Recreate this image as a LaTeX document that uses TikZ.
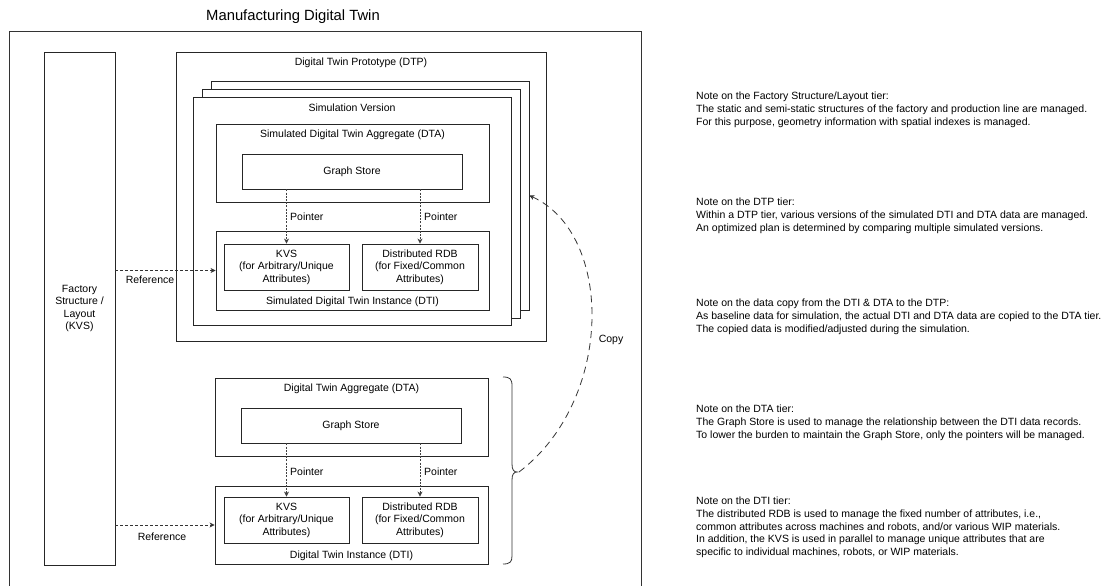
\documentclass[tikz,border=0pt]{standalone}
\usepackage{fontspec}
\setmainfont{Liberation Sans}
\usetikzlibrary{arrows.meta}
\begin{document}
\begin{tikzpicture}[x=1pt,y=-1pt,
  box/.style={draw=black!85, line width=0.8pt, fill=white, inner sep=0pt, align=center,
    font=\fontsize{10.5}{12.5}\selectfont},
  txt/.style={inner sep=0pt, align=center, font=\fontsize{10.5}{12.5}\selectfont},
  note/.style={inner sep=0pt, align=left, anchor=north west, font=\fontsize{10.5}{12.6}\selectfont},
  tip/.style={-{Stealth[length=5pt,width=5pt,inset=1.5pt]}},
  ptr/.style={tip, draw=black!75, line width=0.8pt, dash pattern=on 2pt off 1.2pt},
  refarrow/.style={tip, draw=black!80, line width=0.8pt, dash pattern=on 3pt off 2pt},
  copyarrow/.style={tip, draw=black!80, line width=0.8pt, dash pattern=on 7pt off 5pt},
  frame/.style={draw=black!80, line width=0.8pt}]
\useasboundingbox (0,0) rectangle (1109,586);

% title and outer frame
\node[inner sep=0pt, font=\fontsize{14.8}{17}\selectfont] (title) at (293,17) {Manufacturing Digital Twin};
\draw[frame] (9,590) -- (9,31) -- (641,31) -- (641,590);

% factory structure
\node[box, minimum width=71pt, minimum height=513pt] (factory) at (79.5,308.5)
  {Factory\\Structure /\\Layout\\(KVS)};

% DTP
\node[box, minimum width=370pt, minimum height=289pt] (dtp) at (361,196.5) {};
\node[txt] (dtptitle) at (361,63) {Digital Twin Prototype (DTP)};
\node[box, minimum width=318pt, minimum height=229pt] (back) at (370,195.5) {};
\node[box, minimum width=318pt, minimum height=229pt] (mid) at (361,203.5) {};
\node[box, minimum width=318pt, minimum height=228pt] (front) at (352,211) {};
\node[txt] (simver) at (352,108) {Simulation Version};

\node[box, minimum width=273pt, minimum height=78pt] (sdta) at (352.5,163) {};
\node[txt] (sdtatitle) at (352.5,135) {Simulated Digital Twin Aggregate (DTA)};
\node[box, minimum width=220pt, minimum height=35pt] (sgs) at (352,171.5) {Graph Store};

\node[box, minimum width=273pt, minimum height=79pt] (sdti) at (352.5,270.5) {};
\node[txt] (sdtititle) at (352.5,302) {Simulated Digital Twin Instance (DTI)};
\node[box, minimum width=125pt, minimum height=46pt] (skvs) at (286.5,267)
  {KVS\\(for Arbitrary/Unique\\Attributes)};
\node[box, minimum width=116pt, minimum height=46pt] (srdb) at (420,267)
  {Distributed RDB\\(for Fixed/Common\\Attributes)};

\draw[ptr] (skvs.north |- sgs.south) -- (skvs.north);
\draw[ptr] (srdb.north |- sgs.south) -- (srdb.north);
\node[txt, anchor=west] (sp1) at (290,217) {Pointer};
\node[txt, anchor=west] (sp2) at (424,217) {Pointer};

% actual DTA / DTI
\node[box, minimum width=273pt, minimum height=78pt] (dta) at (351.5,417) {};
\node[txt] (dtatitle) at (351.5,389) {Digital Twin Aggregate (DTA)};
\node[box, minimum width=220pt, minimum height=35pt] (gs) at (351,425.5) {Graph Store};

\node[box, minimum width=273pt, minimum height=78pt] (dti) at (351.5,525) {};
\node[txt] (dtititle) at (351.5,556) {Digital Twin Instance (DTI)};
\node[box, minimum width=125pt, minimum height=46pt] (kvs) at (286.5,520)
  {KVS\\(for Arbitrary/Unique\\Attributes)};
\node[box, minimum width=116pt, minimum height=46pt] (rdb) at (420,520)
  {Distributed RDB\\(for Fixed/Common\\Attributes)};

\draw[ptr] (kvs.north |- gs.south) -- (kvs.north);
\draw[ptr] (rdb.north |- gs.south) -- (rdb.north);
\node[txt, anchor=west] (p1) at (290,472) {Pointer};
\node[txt, anchor=west] (p2) at (424,472) {Pointer};

% references
\draw[refarrow] (factory.east |- sdti.west) -- (sdti.west);
\node[txt] (sref) at (150,280) {Reference};
\draw[refarrow] (factory.east |- dti.west) -- (dti.west);
\node[txt] (ref) at (162,537) {Reference};

% brace and copy
\draw[frame] (503,377) .. controls (510,377) and (512,379) .. (512,386) -- (512,464)
  .. controls (512,470) and (514,472) .. (517,472)
  .. controls (514,472) and (512,474) .. (512,480) -- (512,556)
  .. controls (512,562) and (510,564) .. (503,564);
\coordinate (bracetip) at (519,472);
\draw[copyarrow] (bracetip) .. controls (614,400) and (614,234) .. (back.east);
\node[txt] (copy) at (611,340) {Copy};

% notes
\node[note] (n1) at (696,92) {Note on the Factory Structure/Layout tier:\\
The static and semi-static structures of the factory and production line are managed.\\
For this purpose, geometry information with spatial indexes is managed.};
\node[note] (n2) at (696,198) {Note on the DTP tier:\\
Within a DTP tier, various versions of the simulated DTI and DTA data are managed.\\
An optimized plan is determined by comparing multiple simulated versions.};
\node[note] (n3) at (696,299) {Note on the data copy from the DTI \& DTA to the DTP:\\
As baseline data for simulation, the actual DTI and DTA data are copied to the DTA tier.\\
The copied data is modified/adjusted during the simulation.};
\node[note] (n4) at (696,405) {Note on the DTA tier:\\
The Graph Store is used to manage the relationship between the DTI data records.\\
To lower the burden to maintain the Graph Store, only the pointers will be managed.};
\node[note] (n5) at (696,497) {Note on the DTI tier:\\
The distributed RDB is used to manage the fixed number of attributes, i.e.,\\
common attributes across machines and robots, and/or various WIP materials.\\
In addition, the KVS is used in parallel to manage unique attributes that are\\
specific to individual machines, robots, or WIP materials.};
\end{tikzpicture}
\end{document}
